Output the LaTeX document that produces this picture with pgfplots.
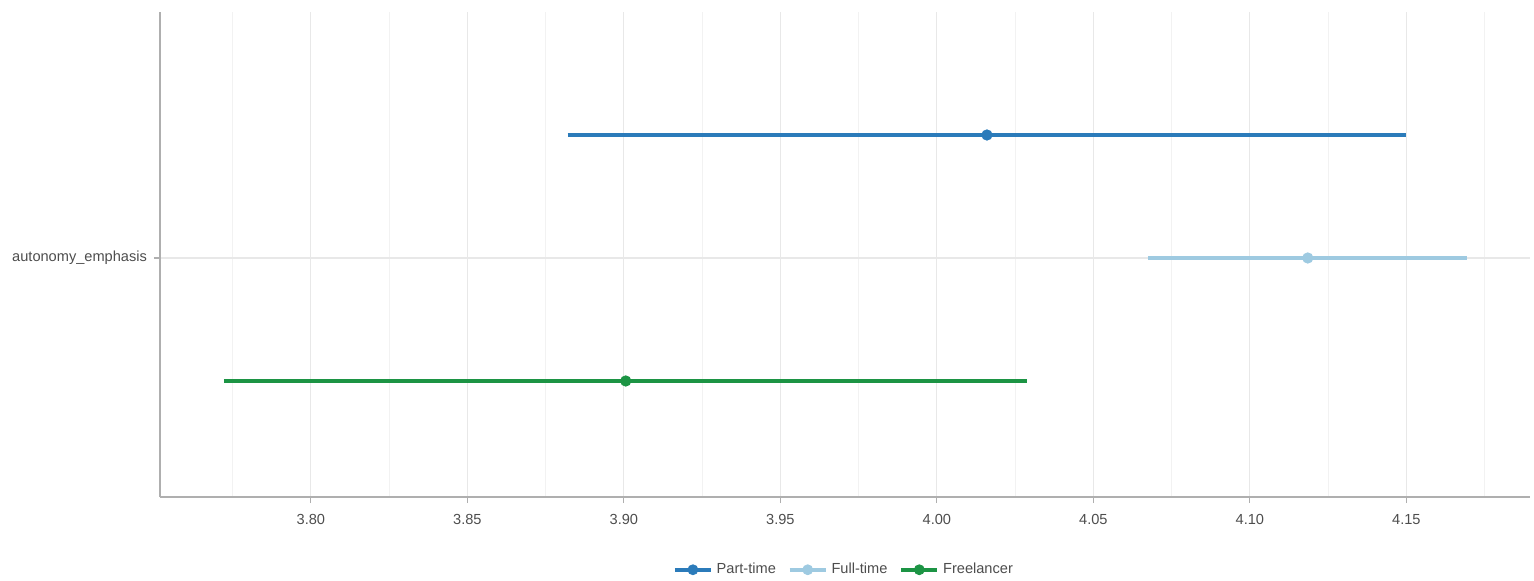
\documentclass[border=0pt]{standalone}
\usepackage{pgfplots}
\pgfplotsset{compat=1.18}
\usepackage{fontspec}
\setmainfont{Liberation Sans}
\definecolor{pt}{RGB}{43,123,186}
\definecolor{ft}{RGB}{158,202,225}
\definecolor{fl}{RGB}{28,148,68}
\definecolor{axg}{RGB}{175,175,175}
\definecolor{txg}{RGB}{77,77,77}
\begin{document}
\begin{tikzpicture}
\useasboundingbox (-80pt,-41.5pt) rectangle (687pt,248.5pt);
\begin{axis}[
  scale only axis, width=685pt, height=242.5pt,
  xmin=3.7518, xmax=4.1895, ymin=0.417, ymax=1.6,
  axis x line*=bottom, axis y line*=left,
  axis line style={axg, line width=1pt},
  xtick={3.80,3.85,3.90,3.95,4.00,4.05,4.10,4.15},
  minor xtick={3.775,3.825,3.875,3.925,3.975,4.025,4.075,4.125,4.175},
  ytick={1}, yticklabels={autonomy\_emphasis},
  xmajorgrids, xminorgrids, ymajorgrids,
  major grid style={draw=black!9, line width=0.6pt},
  minor grid style={draw=black!5, line width=0.5pt},
  tick align=outside, major tick length=3pt, minor tick length=0pt,
  tick style={axg, line width=0.6pt},
  xticklabel style={/pgf/number format/.cd, fixed, fixed zerofill, precision=2},
  /pgf/number format/assume math mode=true,
  ticklabel style={font=\fontsize{7.3}{8}\selectfont, text=txg},
  xticklabel shift=2pt, yticklabel shift=0pt,
  legend style={at={(0.5,-0.15)}, anchor=center, draw=none, fill=none,
    legend columns=-1, font=\fontsize{7.3}{8}\selectfont, text=txg,
    /tikz/every even column/.append style={column sep=4pt}},
  legend image code/.code={
    \draw[#1, line width=1.8pt, mark=none] (0pt,0pt) -- (18pt,0pt);
    \fill[#1] (9pt,0pt) circle (2.5pt);
  },
]
% lines (intervals)
\addplot[pt, line width=1.8pt, forget plot] coordinates {(3.882,1.3) (4.150,1.3)};
\addplot[ft, line width=1.6pt, forget plot] coordinates {(4.0674,1.0) (4.1693,1.0)};
\addplot[fl, line width=1.7pt, forget plot] coordinates {(3.7722,0.7) (4.0288,0.7)};
% points
\addplot[pt, only marks, mark=*, mark size=2.6pt] coordinates {(4.016,1.3)};
\addlegendentry{Part-time}
\addplot[ft, only marks, mark=*, mark size=2.6pt] coordinates {(4.1185,1.0)};
\addlegendentry{Full-time}
\addplot[fl, only marks, mark=*, mark size=2.6pt] coordinates {(3.9006,0.7)};
\addlegendentry{Freelancer}
\end{axis}
\end{tikzpicture}
\end{document}
